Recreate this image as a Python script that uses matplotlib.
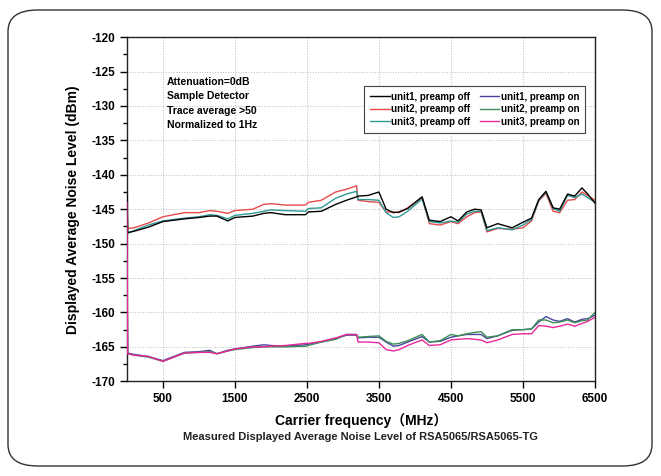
import numpy as np
import matplotlib.pyplot as plt
from matplotlib.patches import FancyBboxPatch
from matplotlib.ticker import MultipleLocator

plt.rcParams['font.family'] = ['Liberation Sans', 'Noto Sans CJK SC', 'DejaVu Sans']
plt.rcParams['font.weight'] = 'bold'
plt.rcParams['axes.unicode_minus'] = False

# frequency points (MHz)
freq = [0, 10, 100, 300, 500, 800, 1000, 1150, 1250, 1400,
        1500, 1750, 1900, 2000, 2200, 2480, 2520, 2700, 2900, 3050,
        3190, 3210, 3350, 3500, 3600, 3700, 3780, 3900, 4100, 4200,
        4350, 4500, 4600, 4720, 4830, 4920, 5000, 5150, 5350, 5500,
        5620, 5720, 5820, 5920, 6010, 6120, 6220, 6320, 6400, 6500]

# preamp off (dBm)
unit1_off = [-143.0, -148.4, -148.2, -147.6, -146.8, -146.4, -146.2, -146.0, -146.0, -146.7,
             -146.2, -146.0, -145.6, -145.5, -145.8, -145.8, -145.4, -145.3, -144.3, -143.7,
             -143.2, -143.1, -143.0, -142.5, -145.0, -145.5, -145.4, -144.9, -143.2, -146.6,
             -146.8, -146.1, -146.7, -145.4, -145.0, -145.1, -147.7, -147.1, -147.7, -146.9,
             -146.3, -143.6, -142.4, -144.8, -145.0, -142.8, -143.1, -141.9, -142.8, -144.1]
unit2_off = [-137.0, -147.8, -147.7, -147.0, -146.1, -145.5, -145.5, -145.2, -145.3, -145.6,
             -145.2, -145.0, -144.3, -144.2, -144.4, -144.4, -144.0, -143.7, -142.5, -142.1,
             -141.6, -143.7, -143.9, -144.0, -145.4, -145.4, -145.5, -144.8, -143.3, -147.1,
             -147.3, -146.8, -147.1, -146.1, -145.5, -145.4, -148.3, -147.8, -147.9, -147.7,
             -146.7, -143.8, -142.7, -145.3, -145.5, -143.7, -143.6, -142.5, -143.0, -143.7]
unit3_off = [-136.0, -148.5, -148.1, -147.3, -146.7, -146.3, -146.1, -145.8, -145.9, -146.4,
             -145.9, -145.6, -145.3, -145.1, -145.2, -145.3, -144.9, -144.8, -143.4, -142.8,
             -142.4, -143.6, -143.6, -143.7, -145.5, -146.2, -146.1, -145.3, -143.5, -146.8,
             -147.0, -146.7, -146.9, -145.7, -145.3, -145.3, -148.1, -147.7, -148.0, -147.3,
             -146.5, -143.7, -142.5, -144.9, -145.3, -143.0, -143.3, -142.8, -143.3, -144.0]

# preamp on (dBm)
unit1_on = [-150.0, -165.9, -166.1, -166.4, -167.0, -165.8, -165.7, -165.5, -166.0, -165.5,
            -165.3, -164.9, -164.7, -164.8, -164.9, -164.7, -164.6, -164.3, -163.8, -163.3,
            -163.3, -163.7, -163.6, -163.6, -164.3, -164.9, -164.8, -164.3, -163.5, -164.3,
            -164.2, -163.6, -163.4, -163.2, -163.2, -163.2, -163.8, -163.4, -162.6, -162.5,
            -162.4, -161.4, -160.6, -161.1, -161.3, -160.9, -161.4, -161.0, -160.9, -160.4]
unit2_on = [-152.0, -166.0, -166.2, -166.5, -167.1, -165.9, -165.8, -165.7, -166.0, -165.6,
            -165.4, -165.1, -165.0, -165.0, -165.0, -164.9, -164.8, -164.3, -163.9, -163.2,
            -163.2, -163.6, -163.5, -163.4, -164.2, -164.6, -164.5, -164.1, -163.2, -164.3,
            -164.1, -163.2, -163.4, -163.1, -162.9, -162.8, -163.6, -163.4, -162.5, -162.5,
            -162.4, -161.1, -161.1, -161.5, -161.4, -161.1, -161.5, -161.2, -161.1, -160.0]
unit3_on = [-144.0, -166.0, -166.2, -166.4, -167.1, -165.9, -165.8, -165.8, -166.0, -165.6,
            -165.3, -165.0, -165.0, -164.9, -164.8, -164.5, -164.5, -164.2, -163.7, -163.2,
            -163.2, -164.3, -164.3, -164.4, -165.4, -165.6, -165.4, -164.8, -164.0, -164.8,
            -164.7, -164.0, -163.9, -163.8, -163.9, -164.0, -164.4, -164.0, -163.2, -163.1,
            -163.1, -161.9, -162.0, -162.2, -162.0, -161.7, -162.0, -161.6, -161.3, -160.7]

fig = plt.figure(figsize=(6.61, 4.76), dpi=100)

# rounded frame around the whole picture
frame = FancyBboxPatch((8 / 661, 10 / 476), 644 / 661, 456 / 476,
                       boxstyle="round,pad=0,rounding_size=0.045",
                       transform=fig.transFigure, fill=False,
                       edgecolor='#333333', linewidth=1.0)
fig.patches.append(frame)

ax = fig.add_axes([0.192, 0.199, 0.708, 0.723])

# legend is filled column by column: off units first, then on units
ax.plot(freq, unit2_off, c='#e84a4a', lw=1.0, label='unit2, preamp off', zorder=2)
ax.plot(freq, unit3_off, c='#2f9a98', lw=1.0, label='unit3, preamp off', zorder=2)
ax.plot(freq, unit1_off, c='#000000', lw=1.0, label='unit1, preamp off', zorder=3)
ax.plot(freq, unit1_on, c='#4a45a0', lw=1.0, label='unit1, preamp on', zorder=2)
ax.plot(freq, unit2_on, c='#3c8f55', lw=1.0, label='unit2, preamp on', zorder=2)
ax.plot(freq, unit3_on, c='#e8289a', lw=1.0, label='unit3, preamp on', zorder=3)

ax.set_xlim(0, 6500)
ax.set_ylim(-170, -120)
ax.set_xticks(np.arange(500, 6501, 1000))
ax.yaxis.set_major_locator(MultipleLocator(5))
ax.yaxis.set_minor_locator(MultipleLocator(2.5))
ax.tick_params(axis='both', which='major', direction='out', length=5, width=1, labelsize=8.5)
ax.tick_params(axis='y', which='minor', direction='out', length=3, width=1)
for s in ax.spines.values():
    s.set_linewidth(1.0)
    s.set_color('#222222')
ax.grid(True, which='major', ls=':', lw=0.7, c='#bbbbbb')

ax.set_xlabel("Carrier frequency（MHz）", fontsize=10, fontweight='bold', labelpad=6)
ax.set_ylabel("Displayed Average Noise Level (dBm)", fontsize=10, fontweight='bold', labelpad=8)

ax.text(0.085, 0.885, "Attenuation=0dB\nSample Detector\nTrace average >50\nNormalized to 1Hz",
        transform=ax.transAxes, fontsize=7.5, fontweight='bold', va='top', linespacing=1.55)

h, l = ax.get_legend_handles_labels()
order = [2, 0, 1, 3, 4, 5]
leg = ax.legend([h[i] for i in order], [l[i] for i in order], ncol=2, loc='upper right',
                bbox_to_anchor=(0.99, 0.872), fontsize=7,
                handlelength=2.0, handletextpad=0.15, columnspacing=1.0, labelspacing=0.25,
                fancybox=False, edgecolor='#444444', framealpha=1, borderpad=0.6)
leg.get_frame().set_linewidth(0.8)

fig.text(0.546, 0.075, "Measured Displayed Average Noise Level of RSA5065/RSA5065-TG",
         ha='center', fontsize=8, fontweight='bold', color='#222222')

plt.savefig('out.png', dpi=100)
